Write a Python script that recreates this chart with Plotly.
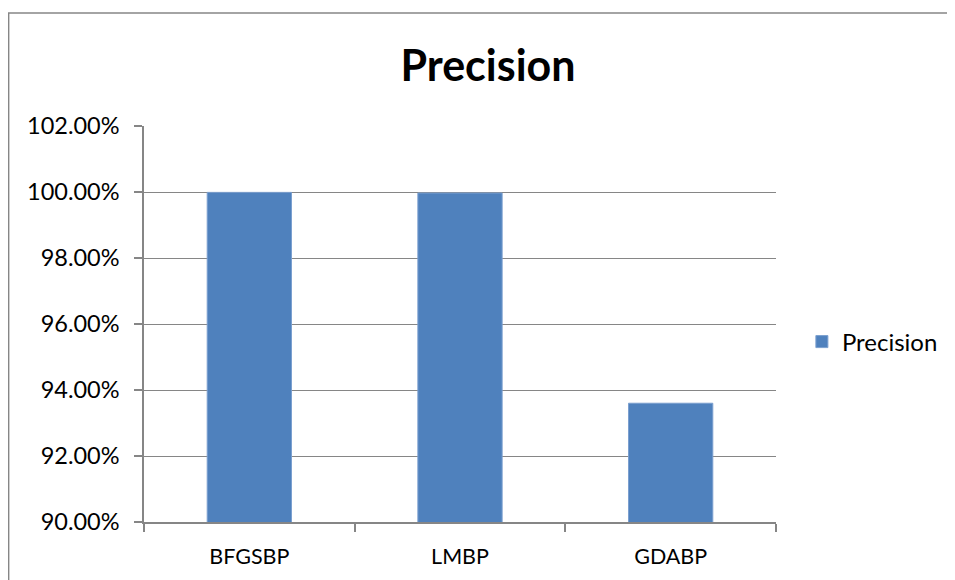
import plotly.graph_objects as go

categories = ["BFGSBP", "LMBP", "GDABP"]
precision = [99.99, 99.97, 93.6]
series_name = "Precision"
title_text = "Precision"

# page body has an 8px margin; positions below are screen px minus 8
OFF = 8
L, R, T, B = 144 - OFF, 779 - OFF, 126 - OFF, 522 - OFF
W, H = 955 - OFF, 580 - OFF
pw, ph = R - L, B - T

def px2x(px):
    return (px - OFF - L) / pw

def py2y(py):
    return (B - (py - OFF)) / ph

fig = go.Figure()
fig.add_trace(go.Bar(
    x=categories, y=precision, name=series_name,
    marker=dict(color="#4F81BD", line=dict(color="#7A9FCF", width=1)),
    width=0.4, showlegend=True,
))

grid = "#868686"
fig.update_layout(
    width=W, height=H,
    margin=dict(l=L, r=W - R, t=T, b=H - B),
    paper_bgcolor="white", plot_bgcolor="white",
    font=dict(family="Lato, Open Sans, sans-serif", size=20, color="black"),
    title=dict(text="<b>" + title_text + "</b>", x=(488 - OFF) / W, xanchor="center",
               y=1 - (66 - OFF) / H, yanchor="middle", font=dict(size=43)),
    xaxis=dict(showline=True, linecolor=grid, linewidth=1.5, ticks="outside", tickson="boundaries",
               ticklen=8, tickcolor=grid, tickwidth=1.5, showgrid=False,
               ticklabelstandoff=14, tickfont=dict(size=21.5)),
    yaxis=dict(range=[90, 102.002], dtick=2, tick0=90, tickformat=".2f", ticksuffix="%",
               showline=True, linecolor=grid, linewidth=1.5, ticks="outside", ticklen=8,
               tickcolor=grid, tickwidth=1.5, showgrid=True, gridcolor=grid, gridwidth=1.2,
               zeroline=False, ticklabelstandoff=10, tickfont=dict(size=23.5)),
    legend=dict(x=px2x(805), y=py2y(342), xanchor="left", yanchor="middle",
                font=dict(size=24), bgcolor="rgba(0,0,0,0)"),
    bargap=0.6,
    shapes=[dict(type="rect", xref="paper", yref="paper",
                 x0=px2x(8), x1=px2x(990), y0=py2y(620), y1=py2y(13),
                 line=dict(color=grid, width=1.5), layer="below")],
)

fig.write_html("out.html")
